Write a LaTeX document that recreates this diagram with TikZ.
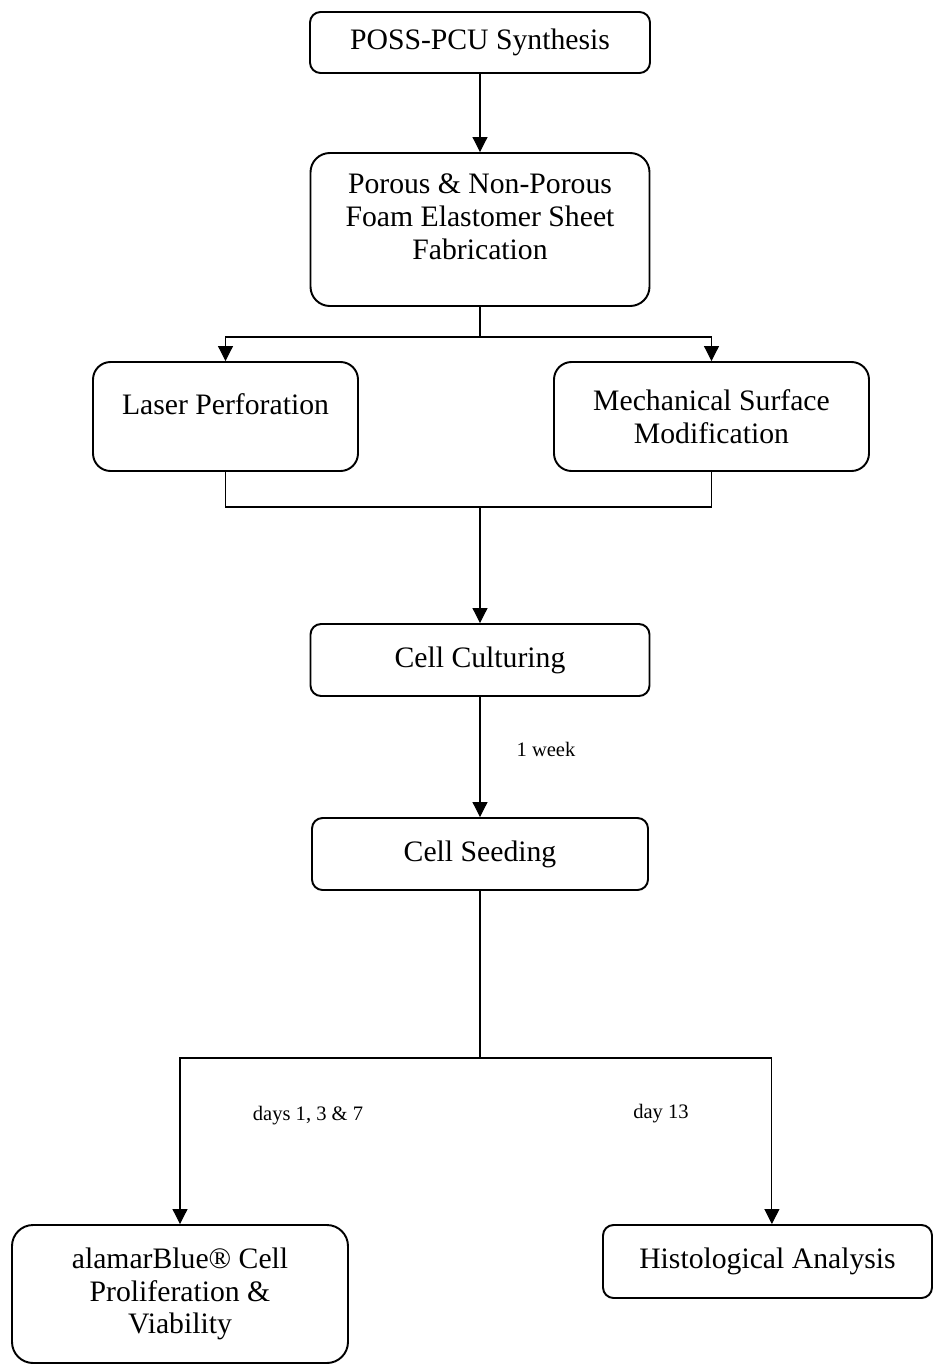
\documentclass[tikz,border=0pt]{standalone}
\usepackage{fontspec}
\setmainfont{Liberation Serif}
\usetikzlibrary{arrows.meta}

\def\bigtext{\fontsize{16.9}{18.7}\selectfont}
\def\smalltext{\fontsize{11.7}{14}\selectfont}
\def\px{0.02cm}

\tikzset{
  stepbox/.style={draw, line width=1.1pt, rounded corners=#1, align=center, font=\bigtext, inner sep=0pt},
  stepbox/.default=6pt,
  link/.style={line width=0.6pt, -{Triangle[width=8.5pt,length=8.5pt]}},
  plain/.style={line width=0.6pt},
  note/.style={font=\smalltext, inner sep=0pt}
}

\begin{document}
\begin{tikzpicture}[x=\px, y=-\px]
  \useasboundingbox (0,0) rectangle (933,1366);

  \node[stepbox, minimum width=340*\px, minimum height=61*\px] (poss) at (480,42.5) {POSS-PCU Synthesis};
  \node[stepbox=11pt, minimum width=339*\px, minimum height=153*\px] (foam) at (480,229.5) {Porous \& Non-Porous\\Foam Elastomer Sheet\\Fabrication\\[-4pt]};
  \node[stepbox=10pt, minimum width=265*\px, minimum height=109*\px, text depth=14pt] (laser) at (225.5,416.5) {Laser Perforation};
  \node[stepbox=10pt, minimum width=315*\px, minimum height=109*\px] (mech) at (711.5,416.5) {Mechanical Surface\\Modification};
  \node[stepbox, minimum width=339*\px, minimum height=72*\px] (culture) at (480,660) {Cell Culturing};
  \node[stepbox, minimum width=336*\px, minimum height=72*\px] (seed) at (480,854) {Cell Seeding};
  \node[stepbox=12pt, minimum width=336*\px, minimum height=138*\px] (alamar) at (180,1294) {alamarBlue\textregistered{} Cell\\Proliferation \&\\Viability};
  \node[stepbox, minimum width=329*\px, minimum height=73*\px] (histo) at (767.5,1261.5) {Histological Analysis};

  \coordinate (split) at (480,337);
  \coordinate (merge) at (480,507);
  \coordinate (fork) at (480,1058);

  \draw[link] (poss) -- (foam);
  \draw[plain] (foam) -- (split);
  \draw[link] (split) -| (laser);
  \draw[link] (split) -| (mech);
  \draw[plain] (laser) |- (merge) -| (mech);
  \draw[link] (merge) -- (culture);
  \draw[link] (culture) -- (seed);
  \draw[plain] (seed) -- (fork);
  \draw[link] (fork) -| (alamar);
  \draw[link] (fork) -| ([xshift=2.5pt]histo.north);

  \node[note] (week) at (546,749) {1 week};
  \node[note] (early) at (308,1116) {days 1, 3 \& 7};
  \node[note] (late) at (661,1114) {day 13};
\end{tikzpicture}
\end{document}
